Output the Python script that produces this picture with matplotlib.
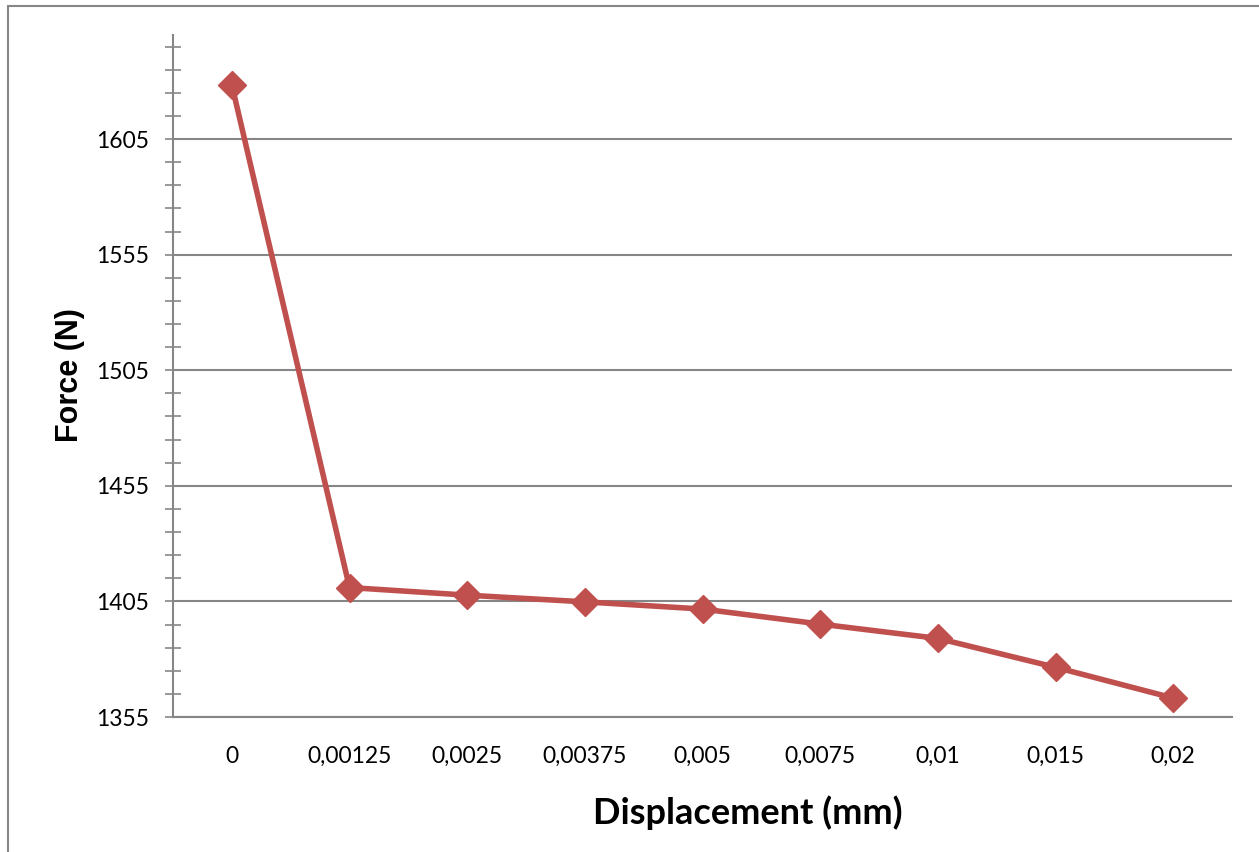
import numpy as np
import matplotlib.pyplot as plt
from matplotlib.patches import Rectangle
from matplotlib.ticker import FixedLocator

# data
displacement = ["0", "0,00125", "0,0025", "0,00375", "0,005", "0,0075", "0,01", "0,015", "0,02"]
force = [1628.4, 1411.0, 1407.7, 1404.8, 1401.7, 1395.2, 1389.0, 1376.5, 1363.2]
y_ticks = [1355, 1405, 1455, 1505, 1555, 1605]

if __name__ == "__main__":
    plt.rcParams['font.family'] = ['Lato', 'DejaVu Sans']
    grey = "#868686"

    fig = plt.figure(figsize=(12.59, 8.52), dpi=100)
    ax = fig.add_axes([173 / 1259, 1 - 717 / 852, (1232 - 173) / 1259, (717 - 35) / 852])

    # chart border (cropped at right and bottom like the screenshot)
    fig.patches.append(Rectangle((8 / 1259, -0.05), 1.1, 1 - 6 / 852 + 0.05,
                                 transform=fig.transFigure, fill=False,
                                 edgecolor=grey, linewidth=1.5))

    x = np.arange(len(displacement))
    ax.plot(x, force, color="#C0504D", linewidth=4, marker="D", markersize=14,
            markeredgecolor="#C0504D", markerfacecolor="#C0504D", zorder=3)

    ax.set_xlim(-0.5, len(displacement) - 0.5)
    ax.set_ylim(1355, 1650)
    ax.set_xticks(x)
    ax.set_xticklabels(displacement)
    ax.yaxis.set_major_locator(FixedLocator(y_ticks))
    ax.yaxis.set_minor_locator(FixedLocator(np.arange(1365, 1650, 10)))

    ax.grid(axis="y", which="major", color=grey, linewidth=1.5)
    ax.set_axisbelow(True)
    for s in ["top", "right"]:
        ax.spines[s].set_visible(False)
    for s in ["left", "bottom"]:
        ax.spines[s].set_color(grey)
        ax.spines[s].set_linewidth(1.5)

    ax.tick_params(axis="x", length=0, labelsize=16.5, pad=21)
    ax.tick_params(axis="y", which="both", direction="inout", length=12, width=1.2,
                   color=grey, labelsize=16.5, pad=11.5)

    ax.set_xlabel("Displacement (mm)", fontsize=26, fontweight="bold")
    ax.xaxis.set_label_coords((748 - 173) / 1059, -(813 - 717) / 682)
    ax.xaxis.label.set_va("center")
    ax.set_ylabel("Force (N)", fontsize=22, fontweight="bold",
                  family=["Liberation Sans", "DejaVu Sans"])
    ax.yaxis.set_label_coords(-(173 - 70) / 1059, (717 - 375) / 682)
    ax.yaxis.label.set_va("center")

    plt.savefig("out.png", dpi=100)
